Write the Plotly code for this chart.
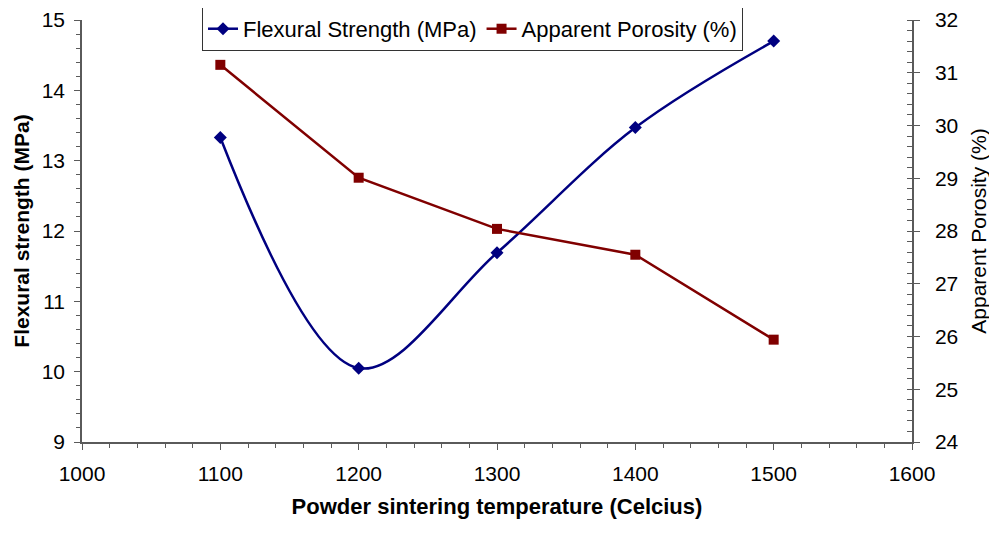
import plotly.graph_objects as go

temperature = [1100, 1200, 1300, 1400, 1500]
flexural_strength = [13.33, 10.05, 11.69, 13.47, 14.70]
apparent_porosity = [31.15, 29.01, 28.04, 27.55, 25.94]

BLUE = "#000080"
RED = "#800000"
AXC = "#5a5a5a"
FONT = "Liberation Sans, Arial, sans-serif"

fig = go.Figure()
fig.add_trace(go.Scatter(
    x=temperature, y=flexural_strength, name="Flexural Strength (MPa)",
    mode="lines+markers", line=dict(color=BLUE, width=2.5, shape="spline", smoothing=1.0),
    marker=dict(symbol="diamond", size=10, color=BLUE), yaxis="y"))
fig.add_trace(go.Scatter(
    x=temperature, y=apparent_porosity, name="Apparent Porosity (%)",
    mode="lines+markers", line=dict(color=RED, width=2.5),
    marker=dict(symbol="square", size=10, color=RED), yaxis="y2"))

tickfont = dict(family=FONT, size=21, color="black")

fig.update_layout(
    width=989, height=533,
    margin=dict(l=74, r=85, t=12, b=99, autoexpand=False),
    paper_bgcolor="white", plot_bgcolor="white",
    font=dict(family=FONT, color="black"),
    showlegend=True,
    legend=dict(orientation="h", x=0.1446, y=1.031, xanchor="left", yanchor="top",
                bordercolor="#333", borderwidth=1, bgcolor="white",
                font=dict(family=FONT, size=22, color="black"),
                itemwidth=30, tracegroupgap=0),
    xaxis=dict(range=[1000, 1600], dtick=100, tick0=1000, showgrid=False, zeroline=False,
               showline=True, linecolor=AXC, linewidth=1.5,
               ticks="outside", ticklen=6, tickcolor=AXC, tickwidth=1.2,
               ticklabelstandoff=6,
               minor=dict(dtick=20, ticks="outside", ticklen=4, tickcolor=AXC, showgrid=False),
               tickfont=tickfont,
               title=dict(text="<b>Powder sintering temperature (Celcius)</b>",
                          font=dict(family=FONT, size=22, color="black"), standoff=15)),
    yaxis=dict(range=[9, 15], dtick=1, showgrid=False, zeroline=False,
               showline=True, linecolor=AXC, linewidth=1.5,
               ticks="outside", ticklen=6, tickcolor=AXC, tickwidth=1.2,
               ticklabelstandoff=5,
               minor=dict(dtick=0.2, ticks="outside", ticklen=4, tickcolor=AXC, showgrid=False),
               tickfont=tickfont,
               title=dict(text="<b>Flexural strength (MPa)</b>",
                          font=dict(family=FONT, size=21, color="black"), standoff=6)),
    yaxis2=dict(range=[24, 32], dtick=1, overlaying="y", side="right", anchor="x",
                showgrid=False, zeroline=False,
                showline=True, linecolor=AXC, linewidth=1.5,
                ticks="outside", ticklen=6, tickcolor=AXC, tickwidth=1.2,
                ticklabelstandoff=11,
                minor=dict(dtick=0.2, ticks="inside", ticklen=5, tickcolor=AXC, showgrid=False),
                tickfont=tickfont,
                title=dict(text="Apparent Porosity (%)",
                           font=dict(family=FONT, size=21, color="black"), standoff=14)),
    yaxis3=dict(range=[24, 32], dtick=1, overlaying="y", side="right", anchor="x",
                showgrid=False, zeroline=False, showline=False,
                ticks="inside", ticklen=6, tickcolor=AXC, tickwidth=1.2,
                showticklabels=False),
)

fig.write_html("out.html")
